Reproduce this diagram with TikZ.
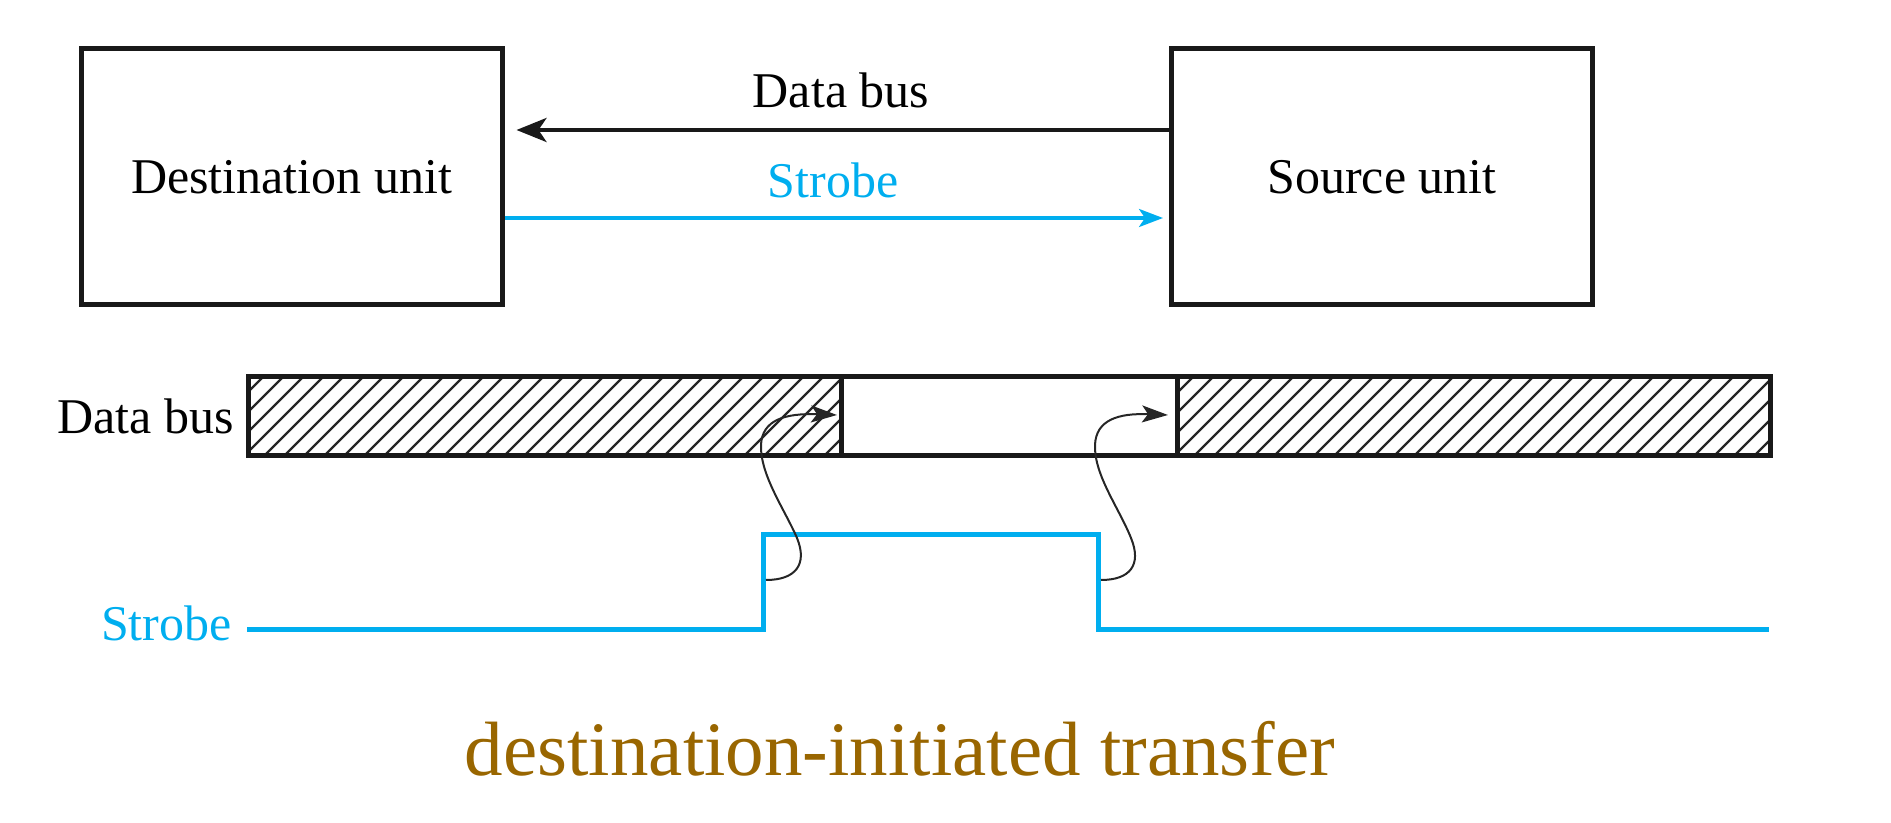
\documentclass[tikz,border=0pt]{standalone}
\usepackage{fontspec}
\setmainfont{Liberation Serif}
\usetikzlibrary{arrows.meta}
\definecolor{strobeblue}{HTML}{00AEEF}
\definecolor{capbrown}{HTML}{996600}
\tikzset{
  unitbox/.style={draw=black!90, line width=2.5pt, minimum width=210.5pt, minimum height=128pt, inner sep=0pt, font=\fontsize{25}{30}\selectfont},
  lbl/.style={inner sep=0pt, font=\fontsize{25}{30}\selectfont},
  busline/.style={draw=black!90, line width=2pt, -{Stealth[length=15pt,width=12pt,inset=4pt]}},
  strobearrow/.style={draw=strobeblue, line width=1.7pt, -{Stealth[length=12pt,width=9pt,inset=3pt]}},
  barframe/.style={draw=black!90, line width=2.5pt},
  hatchline/.style={draw=black!85, line width=1.1pt},
  wave/.style={draw=strobeblue, line width=2.5pt},
  causal/.style={draw=black!85, line width=1pt, -{Stealth[length=13pt,width=8.5pt,inset=3pt]}}
}
\begin{document}
\begin{tikzpicture}[x=0.5pt,y=-0.5pt]
\useasboundingbox (0,0) rectangle (1891,823);
% units
\node[unitbox] (dst) at (291.5,177) {Destination unit};
\node[unitbox] (src) at (1382,177) {Source unit};
\coordinate (ybus) at (0,130);
\coordinate (ystr) at (0,218);
\draw[busline, shorten >=6pt] (src.west |- ybus) -- (dst.east |- ybus);
\draw[strobearrow, shorten >=3pt] (dst.east |- ystr) -- (src.west |- ystr);
\node[lbl, anchor=base] (lbus) at (841,108) {Data bus};
\node[lbl, anchor=base, text=strobeblue] (lstr) at (833,198) {Strobe};
% timing bar
\coordinate (b0) at (248,377);
\coordinate (b1) at (841,377);
\coordinate (b2) at (1177,377);
\coordinate (b3) at (1770,377);
\coordinate (c0) at (248,456);
\coordinate (c1) at (841,456);
\coordinate (c2) at (1177,456);
\coordinate (c3) at (1770,456);
\begin{scope}
\clip (b0) rectangle (c1);
\foreach \x in {160,180,...,860} \draw[hatchline] (\x,460) -- ++(90,-90);
\end{scope}
\begin{scope}
\clip (b2) rectangle (c3);
\foreach \x in {1090,1110,...,1790} \draw[hatchline] (\x,460) -- ++(90,-90);
\end{scope}
\draw[barframe] (b0) rectangle (c3);
\draw[barframe] (b1) -- (c1);
\draw[barframe] (b2) -- (c2);
\node[lbl, anchor=base east] (ldbus) at (234,434) {Data bus};
% strobe waveform
\coordinate (s0) at (247,629);
\coordinate (s1) at (763,629);
\coordinate (s2) at (763,535);
\coordinate (s3) at (1098,535);
\coordinate (s4) at (1098,629);
\coordinate (s5) at (1769,629);
\draw[wave] (s0) -- (s1) -- (s2) -- (s3) -- (s4) -- (s5);
\node[lbl, anchor=base east, text=strobeblue] (lwave) at (232,640) {Strobe};
% causal arrows
\coordinate (r1) at (766,580);
\coordinate (t1) at (837,415);
\coordinate (r2) at (1101,580);
\coordinate (t2) at (1168,415);
\draw[causal] (r1) .. controls (795,580) and (808,565) .. (797,538)
  .. controls (785,510) and (760,475) .. (761,445)
  .. controls (762,420) and (785,413) .. (t1);
\draw[causal] (r2) .. controls (1130,580) and (1142,565) .. (1131,538)
  .. controls (1119,508) and (1094,475) .. (1095,445)
  .. controls (1096,420) and (1118,413) .. (t2);
% caption
\node[inner sep=0pt, anchor=base, text=capbrown, font=\fontsize{38.5}{46}\selectfont] (cap) at (900,775) {destination-initiated transfer};
\end{tikzpicture}
\end{document}
